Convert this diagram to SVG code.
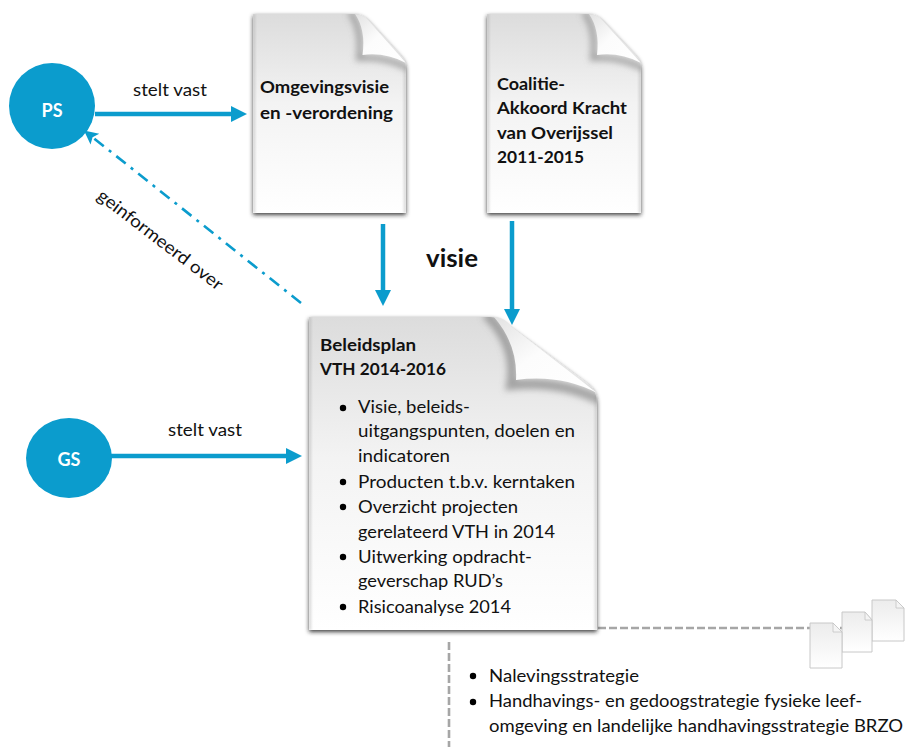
<svg xmlns="http://www.w3.org/2000/svg" width="905" height="747" viewBox="0 0 905 747">
<style>
text{font-family:"Lato","Carlito","Open Sans",sans-serif;font-size:17.5px;fill:#111}
.b{font-weight:700}
.w{fill:#fff;font-weight:700;font-size:18px;text-anchor:middle}
.page{fill:url(#pg);filter:url(#sh)}
.flap{fill:url(#fl);stroke:none}
.shade{fill:none;stroke:#808080;stroke-width:6;stroke-opacity:.65;filter:url(#bl)}
.edge{fill:none;stroke:#a0a0a0;stroke-width:2.500;stroke-opacity:.4;filter:url(#bl1)}
.small{fill:url(#sp);stroke:#c8c8c8;stroke-width:1}
.smallflap{fill:#f4f4f4;stroke:#c4c4c4;stroke-width:.8}
.arrow{stroke:#0b9ccd;stroke-width:4.500;fill:none}
.grey{stroke:#a6a6a6;stroke-width:2.6;stroke-dasharray:8 3;fill:none}
</style>
<defs>
<linearGradient id="pg" x1="0" y1="0" x2="0" y2="1"><stop offset="0" stop-color="#dcdcdc"/><stop offset=".45" stop-color="#f3f3f3"/><stop offset="1" stop-color="#fff"/></linearGradient>
<linearGradient id="sp" x1="0" y1="0" x2="0" y2="1"><stop offset="0" stop-color="#ececec"/><stop offset="1" stop-color="#fff"/></linearGradient>
<linearGradient id="fl" x1="0" y1="0" x2="1" y2="1"><stop offset="0" stop-color="#e2e2e2"/><stop offset=".45" stop-color="#fcfcfc"/><stop offset="1" stop-color="#fff"/></linearGradient>
<filter id="sh" x="-10%" y="-10%" width="120%" height="120%"><feDropShadow dx="0" dy="2" stdDeviation="2" flood-color="#222" flood-opacity=".85"/></filter>
<filter id="bl" x="-40%" y="-40%" width="180%" height="180%"><feGaussianBlur stdDeviation="3"/></filter>
<filter id="bl1" x="-10%" y="-10%" width="120%" height="120%"><feGaussianBlur stdDeviation="1.200"/></filter>
<clipPath id="c1"><path d="M253 14H356Q362 14 368 20L400 55Q406 61 406 68V213H253Z"/></clipPath>
<clipPath id="c2"><path d="M487 14H590Q596 14 602 20L635 55Q641 61 641 68V213H487Z"/></clipPath>
<clipPath id="c3"><path d="M309 317H490Q500 317 508 325L588 384Q597 391 597 402V630H309Z"/></clipPath>
<marker id="ah" markerUnits="userSpaceOnUse" markerWidth="18" markerHeight="18" refX="6" refY="8" orient="auto"><path d="M0 0L16 8L0 16Z" fill="#0b9ccd"/></marker>
<marker id="ah2" markerUnits="userSpaceOnUse" markerWidth="16" markerHeight="16" refX="5" refY="7" orient="auto"><path d="M0 0L14 7L0 14L3 7Z" fill="#0b9ccd"/></marker>
</defs>

<g id="connectors">
<path class="arrow" d="M95 114H237" marker-end="url(#ah)"/>
<path class="arrow" d="M383 224V296" marker-end="url(#ah)"/>
<path class="arrow" d="M512 221V315" marker-end="url(#ah)"/>
<path class="arrow" d="M111 456H292" marker-end="url(#ah)"/>
<path d="M301 303L91 136" stroke="#0b9ccd" stroke-width="2.600" fill="none" stroke-dasharray="12 6.500 3 6.500" marker-end="url(#ah2)"/>
<path class="grey" d="M598 628H905"/>
<path class="grey" d="M449 642V747"/>
</g>

<g id="ps"><circle cx="52" cy="106" r="43" fill="#0b9ccd"/><text class="w" x="52" y="117">PS</text></g>
<g id="gs"><ellipse cx="69" cy="458" rx="43" ry="40" fill="#0b9ccd"/><text class="w" x="69" y="466">GS</text></g>

<g id="omgevingsvisie">
<path class="page" d="M253 14H356Q362 14 368 20L400 55Q406 61 406 68V213H253Z"/>
<g clip-path="url(#c1)">
<path class="edge" d="M254 14V213M405 66V213"/>
<path class="shade" d="M350 12Q363 30 359 58Q385 56 408 68"/>
</g>
<path class="flap" d="M355 14Q366 30 362.500 55Q385 52 406 63L368 20Q362 14 355 14Z"/>
<text class="b" x="260" y="93" textLength="129" lengthAdjust="spacingAndGlyphs">Omgevingsvisie</text>
<text class="b" x="260" y="119" textLength="133" lengthAdjust="spacingAndGlyphs">en -verordening</text>
</g>

<g id="coalitie">
<path class="page" d="M487 14H590Q596 14 602 20L635 55Q641 61 641 68V213H487Z"/>
<g clip-path="url(#c2)">
<path class="edge" d="M488 14V213M640 66V213"/>
<path class="shade" d="M584 12Q597 30 593 58Q619 56 643 68"/>
</g>
<path class="flap" d="M589 14Q600 30 597 55Q620 52 641 63L602 20Q596 14 589 14Z"/>
<text class="b" x="497" y="90" textLength="68" lengthAdjust="spacingAndGlyphs">Coalitie-</text>
<text class="b" x="497" y="114" textLength="130" lengthAdjust="spacingAndGlyphs">Akkoord Kracht</text>
<text class="b" x="497" y="139" textLength="116" lengthAdjust="spacingAndGlyphs">van Overijssel</text>
<text class="b" x="497" y="163" textLength="87" lengthAdjust="spacingAndGlyphs">2011-2015</text>
</g>

<g id="beleidsplan">
<path class="page" d="M309 317H490Q500 317 508 325L588 384Q597 391 597 402V630H309Z"/>
<g clip-path="url(#c3)">
<path class="edge" d="M310 317V630M596 396V630"/>
<path class="shade" style="stroke-width:10" d="M486 314Q518 345 511 385Q560 380 600 400"/>
</g>
<path class="flap" d="M494 317Q518 345 516 380Q560 374 597 393L512 327Q504 317 494 317Z"/>
<text class="b" x="320" y="351" textLength="96" lengthAdjust="spacingAndGlyphs">Beleidsplan</text>
<text class="b" x="320" y="375" textLength="126" lengthAdjust="spacingAndGlyphs">VTH 2014-2016</text>
<g>
<circle cx="343" cy="408" r="3.200"/><text x="358" y="413" textLength="112" lengthAdjust="spacingAndGlyphs">Visie, beleids-</text>
<text x="358" y="437" textLength="217" lengthAdjust="spacingAndGlyphs">uitgangspunten, doelen en</text>
<text x="358" y="462" textLength="92" lengthAdjust="spacingAndGlyphs">indicatoren</text>
<circle cx="343" cy="482" r="3.200"/><text x="358" y="488" textLength="217" lengthAdjust="spacingAndGlyphs">Producten t.b.v. kerntaken</text>
<circle cx="343" cy="507" r="3.200"/><text x="358" y="513" textLength="160" lengthAdjust="spacingAndGlyphs">Overzicht projecten</text>
<text x="358" y="538" textLength="197" lengthAdjust="spacingAndGlyphs">gerelateerd VTH in 2014</text>
<circle cx="343" cy="557" r="3.200"/><text x="358" y="563" textLength="174" lengthAdjust="spacingAndGlyphs">Uitwerking opdracht-</text>
<text x="358" y="587" textLength="145" lengthAdjust="spacingAndGlyphs">geverschap RUD’s</text>
<circle cx="343" cy="607" r="3.200"/><text x="358" y="613" textLength="153" lengthAdjust="spacingAndGlyphs">Risicoanalyse 2014</text>
</g>
</g>

<g id="documenten">
<path class="small" d="M872 600H896L904 608V641H872Z"/><path class="smallflap" d="M896 600V608H904Z"/>
<path class="small" d="M842 612H865L872 620V652H842Z"/><path class="smallflap" d="M865 612V620H872Z"/>
<path class="small" d="M810 623H833L842 632V668H810Z"/><path class="smallflap" d="M833 623V632H842Z"/>
</g>

<g id="strategie">
<circle cx="473" cy="676" r="3.200"/><text x="489" y="682" textLength="150" lengthAdjust="spacingAndGlyphs">Nalevingsstrategie</text>
<circle cx="473" cy="702" r="3.200"/><text x="489" y="707" textLength="373" lengthAdjust="spacingAndGlyphs">Handhavings- en gedoogstrategie fysieke leef-</text>
<text x="489" y="732" textLength="414" lengthAdjust="spacingAndGlyphs">omgeving en landelijke handhavingsstrategie BRZO</text>
</g>

<g id="labels">
<text x="133" y="96" textLength="74" lengthAdjust="spacingAndGlyphs">stelt vast</text>
<text x="168" y="436" textLength="74" lengthAdjust="spacingAndGlyphs">stelt vast</text>
<text class="b" x="426" y="267" style="font-size:24px" textLength="52" lengthAdjust="spacingAndGlyphs">visie</text>
<text transform="translate(96 198) rotate(37.500)" textLength="153" lengthAdjust="spacingAndGlyphs">geinformeerd over</text>
</g>
</svg>
